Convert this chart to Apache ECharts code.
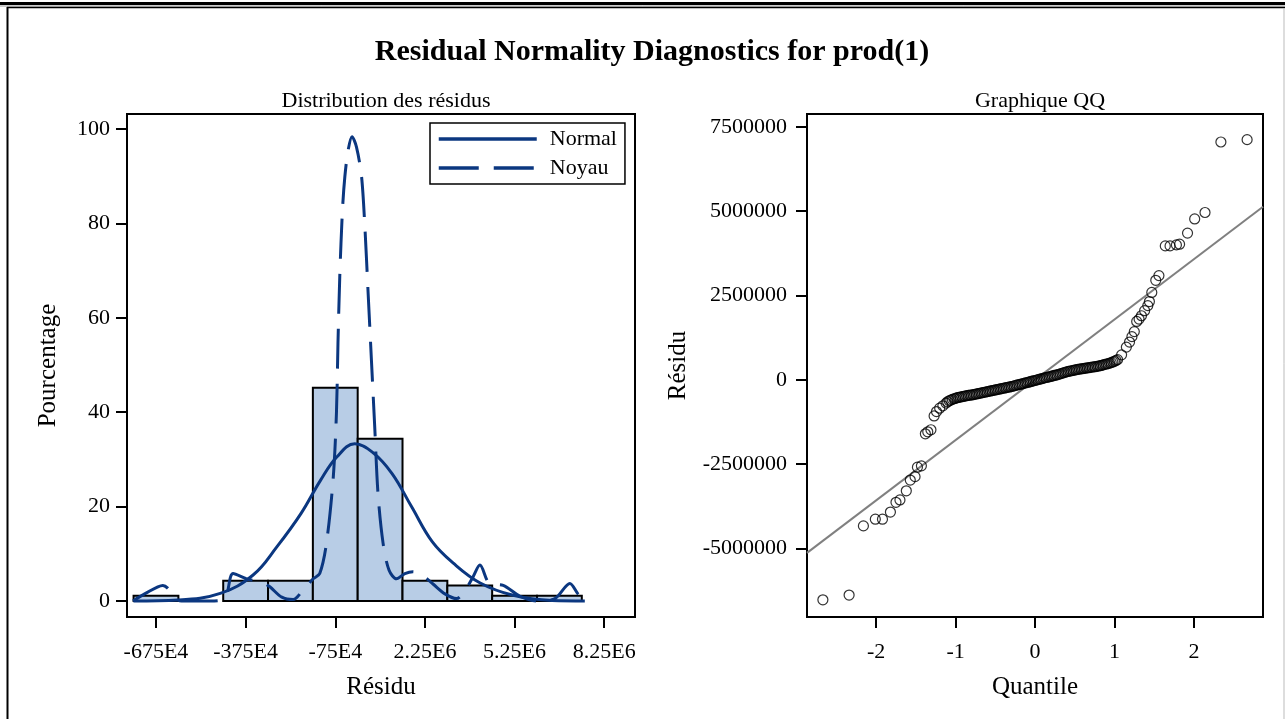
<!DOCTYPE html>
<html>
<head>
<meta charset="UTF-8">
<title>Residual Normality Diagnostics</title>
<script src="https://cdn.jsdelivr.net/npm/echarts@6/dist/echarts.min.js"></script>
<style>
  html, body { margin: 0; padding: 0; background: #fff; }
  #chart { width: 1285px; height: 719px; }
</style>
</head>
<body>
<div id="chart"></div>
<script>
// histogram (percent per bin of width 1.5E6)
var binWidth = 1.5e6;
var binCenters = [-6.75e6, -5.25e6, -3.75e6, -2.25e6, -0.75e6, 0.75e6, 2.25e6, 3.75e6, 5.25e6, 6.75e6];
var binPercent = [1.1, 0, 4.3, 4.3, 45.2, 34.4, 4.3, 3.3, 1.1, 1.1];

// normal density curve
var normalX = [-7.5e6, -6.0e6, -4.6e6, -3.5e6, -2.7e6, -1.9e6, -1.25e6, -0.7e6, -0.1e6, 0.5e6, 1.15e6, 1.8e6, 2.5e6, 3.2e6, 4.1e6, 5.2e6, 6.5e6, 7.6e6];
var normalPct = [0, 0.2, 1.6, 5.5, 11.5, 18.5, 25.5, 30.5, 33.3, 31.5, 27, 20, 12.5, 8, 3.8, 1.2, 0.1, 0];

// kernel density curve
var kernelX = [-7.52e6, -7.13e6, -6.52e6, -5.9e6, -4.95e6, -4.45e6, -4.17e6, -3.68e6, -3.21e6, -2.94e6, -2.54e6, -2.16e6, -1.81e6, -1.49e6, -1.27e6, -1.05e6, -0.82e6, -0.71e6, -0.66e6, -0.6e6, -0.51e6, -0.43e6, -0.32e6, -0.19e6, -0.04e6, 0.13e6, 0.24e6, 0.35e6, 0.46e6, 0.57e6, 0.68e6, 0.85e6, 1.05e6, 1.3e6, 1.58e6, 1.85e6, 2.25e6, 2.52e6, 2.92e6, 3.31e6, 3.62e6, 3.86e6, 4.09e6, 4.42e6, 4.87e6, 5.43e6, 5.99e6, 6.6e6, 7.1e6, 7.37e6, 7.6e6];
var kernelPct = [0, 1.5, 3.3, 0, 0, 0.5, 5.8, 4.6, 4.0, 3.0, 0.8, 0.3, 2.5, 4.7, 5.8, 12, 26, 40, 54.6, 68.7, 82.8, 89.9, 95.5, 98.4, 96.2, 89.9, 79.3, 65.1, 51, 36.9, 22.7, 12.2, 6.5, 4.7, 5.8, 6.2, 5.0, 3.6, 1.5, 0.5, 2.5, 5.1, 7.6, 3.6, 3.3, 1.0, 0, 0.5, 3.7, 1.5, 0];

var histTickValues = [-6.75e6, -3.75e6, -0.75e6, 2.25e6, 5.25e6, 8.25e6];
var histTickLabels = ['-675E4', '-375E4', '-75E4', '2.25E6', '5.25E6', '8.25E6'];
var pctTicks = [0, 20, 40, 60, 80, 100];

// QQ plot points
var qqQuantile = [-2.67, -2.34, -2.16, -2.01, -1.92, -1.82, -1.75, -1.70, -1.62, -1.57, -1.51, -1.48, -1.43, -1.38, -1.35, -1.31, -1.27, -1.24, -1.20, -1.16, -1.12,
  -1.10, -1.08, -1.06, -1.04, -1.02, -1.00, -0.98, -0.96, -0.94, -0.92, -0.90, -0.88, -0.86, -0.84, -0.82, -0.80, -0.78, -0.76, -0.74, -0.72, -0.70, -0.68, -0.66, -0.64, -0.62, -0.60,
  -0.58, -0.56, -0.54, -0.52, -0.50, -0.48, -0.46, -0.44, -0.42, -0.40, -0.38, -0.36, -0.34, -0.32, -0.30, -0.28, -0.26, -0.24, -0.22, -0.20, -0.18, -0.16, -0.14, -0.12, -0.10,
  -0.08, -0.06, -0.04, -0.02, 0.00, 0.02, 0.04, 0.06, 0.08, 0.10, 0.12, 0.14, 0.16, 0.18, 0.20, 0.22, 0.24, 0.26, 0.28, 0.30, 0.32, 0.34, 0.36, 0.38, 0.40,
  0.42, 0.44, 0.46, 0.48, 0.50, 0.52, 0.54, 0.56, 0.58, 0.60, 0.62, 0.64, 0.66, 0.68, 0.70, 0.72, 0.74, 0.76, 0.78, 0.80, 0.82, 0.84, 0.86, 0.88, 0.90, 0.92, 0.94, 0.96, 0.98, 1.00, 1.02, 1.04,
  1.09, 1.15, 1.19, 1.22, 1.25, 1.28, 1.31, 1.34, 1.38, 1.42, 1.44, 1.47, 1.52, 1.56, 1.64, 1.70, 1.78, 1.82, 1.92, 2.01, 2.14, 2.34, 2.67];
var qqResidual = [-6.52e6, -6.38e6, -4.33e6, -4.13e6, -4.13e6, -3.92e6, -3.63e6, -3.56e6, -3.29e6, -2.97e6, -2.87e6, -2.59e6, -2.55e6, -1.60e6, -1.54e6, -1.48e6, -1.07e6, -0.94e6, -0.84e6, -0.77e6, -0.69e6,
  -0.65e6, -0.62e6, -0.60e6, -0.58e6, -0.56e6, -0.55e6, -0.53e6, -0.52e6, -0.51e6, -0.50e6, -0.49e6, -0.48e6, -0.47e6, -0.46e6, -0.455e6, -0.45e6, -0.44e6, -0.43e6, -0.42e6, -0.41e6, -0.40e6, -0.39e6, -0.38e6, -0.37e6, -0.36e6, -0.35e6,
  -0.34e6, -0.33e6, -0.32e6, -0.31e6, -0.30e6, -0.29e6, -0.28e6, -0.27e6, -0.26e6, -0.25e6, -0.24e6, -0.23e6, -0.22e6, -0.21e6, -0.20e6, -0.19e6, -0.175e6, -0.16e6, -0.15e6, -0.14e6, -0.13e6, -0.12e6, -0.105e6, -0.09e6, -0.08e6,
  -0.07e6, -0.055e6, -0.04e6, -0.03e6, -0.02e6, -0.005e6, 0.01e6, 0.02e6, 0.03e6, 0.045e6, 0.06e6, 0.07e6, 0.08e6, 0.09e6, 0.10e6, 0.115e6, 0.13e6, 0.14e6, 0.15e6, 0.165e6, 0.18e6, 0.195e6, 0.21e6, 0.225e6, 0.24e6,
  0.25e6, 0.26e6, 0.27e6, 0.28e6, 0.29e6, 0.30e6, 0.31e6, 0.32e6, 0.325e6, 0.33e6, 0.34e6, 0.35e6, 0.355e6, 0.36e6, 0.37e6, 0.38e6, 0.385e6, 0.39e6, 0.40e6, 0.41e6, 0.42e6, 0.43e6, 0.445e6, 0.46e6, 0.47e6, 0.48e6, 0.495e6, 0.51e6, 0.53e6, 0.55e6, 0.575e6, 0.60e6,
  0.74e6, 0.97e6, 1.12e6, 1.28e6, 1.43e6, 1.73e6, 1.80e6, 1.90e6, 2.05e6, 2.20e6, 2.32e6, 2.59e6, 2.95e6, 3.09e6, 3.97e6, 3.97e6, 4.00e6, 4.02e6, 4.35e6, 4.77e6, 4.96e6, 7.05e6, 7.12e6];

// reference line end points
var refLineQ = [-2.87, 2.87];
var refLineR = [-5.13e6, 5.13e6];

var qqXTicks = [-2, -1, 0, 1, 2];
var qqYTicks = [-5000000, -2500000, 0, 2500000, 5000000, 7500000];

var FONT = '"Liberation Serif", "Times New Roman", serif';
var NAVY = '#0b3780';
var KERNEL_DASH = [40, 15];

function zip(a, b) {
    var out = [];
    for (var i = 0; i < a.length; i++) out.push([a[i], b[i]]);
    return out;
}

var tickStyle = { show: true, length: 11, inside: false, lineStyle: { color: '#000', width: 2 } };
var labelStyle = { color: '#000', fontFamily: FONT, fontSize: 22 };
var nameStyle = { color: '#000', fontFamily: FONT, fontSize: 25 };

var chart = echarts.init(document.getElementById('chart'));

var option = {
    backgroundColor: '#fff',
    animation: false,
    title: [
        {
            text: 'Residual Normality Diagnostics for prod(1)',
            left: 647, top: 32, textAlign: 'center',
            textStyle: { fontFamily: FONT, fontWeight: 'bold', fontSize: 30, color: '#000' }
        },
        {
            text: 'Distribution des résidus',
            left: 381, top: 85, textAlign: 'center',
            textStyle: { fontFamily: FONT, fontWeight: 'normal', fontSize: 22, color: '#000' }
        },
        {
            text: 'Graphique QQ',
            left: 1035, top: 85, textAlign: 'center',
            textStyle: { fontFamily: FONT, fontWeight: 'normal', fontSize: 22, color: '#000' }
        }
    ],
    legend: {
        data: ['Normal', 'Noyau'],
        orient: 'vertical',
        left: 430, top: 123,
        borderColor: '#000', borderWidth: 1.5,
        padding: [5, 8, 5, 7],
        itemWidth: 98, itemHeight: 14, itemGap: 7,
        itemStyle: { opacity: 0 },
        lineStyle: { width: 3.5 },
        textStyle: { fontFamily: FONT, fontSize: 22, color: '#000', padding: [0, 0, 0, 8] }
    },
    grid: [
        { left: 127, top: 114, width: 508, height: 503, show: true, borderColor: '#000', borderWidth: 2, backgroundColor: 'transparent' },
        { left: 807, top: 114, width: 456, height: 503, show: true, borderColor: '#000', borderWidth: 2, backgroundColor: 'transparent' }
    ],
    xAxis: [
        {
            gridIndex: 0, type: 'value', min: -7.72e6, max: 9.28e6,
            name: 'Résidu', nameLocation: 'middle', nameGap: 58, nameTextStyle: nameStyle,
            axisLine: { show: false, onZero: false },
            axisTick: Object.assign({ customValues: histTickValues }, tickStyle),
            axisLabel: Object.assign({
                customValues: histTickValues, margin: 24,
                formatter: function (v) {
                    for (var i = 0; i < histTickValues.length; i++) {
                        if (Math.abs(histTickValues[i] - v) < 1) return histTickLabels[i];
                    }
                    return '';
                }
            }, labelStyle),
            splitLine: { show: false }
        },
        {
            gridIndex: 1, type: 'value', min: -2.87, max: 2.87,
            name: 'Quantile', nameLocation: 'middle', nameGap: 58, nameTextStyle: nameStyle,
            axisLine: { show: false, onZero: false },
            axisTick: Object.assign({ customValues: qqXTicks }, tickStyle),
            axisLabel: Object.assign({ customValues: qqXTicks, margin: 24 }, labelStyle),
            splitLine: { show: false }
        }
    ],
    yAxis: [
        {
            gridIndex: 0, type: 'value', min: -3.4, max: 103.2,
            name: 'Pourcentage', nameLocation: 'middle', nameGap: 66, nameTextStyle: nameStyle,
            axisLine: { show: false, onZero: false },
            axisTick: Object.assign({ customValues: pctTicks }, tickStyle),
            axisLabel: Object.assign({ customValues: pctTicks, margin: 17 }, labelStyle),
            splitLine: { show: false }
        },
        {
            gridIndex: 1, type: 'value', min: -7.03e6, max: 7.88e6,
            name: 'Résidu', nameLocation: 'middle', nameGap: 116, nameTextStyle: nameStyle,
            axisLine: { show: false, onZero: false },
            axisTick: Object.assign({ customValues: qqYTicks }, tickStyle),
            axisLabel: Object.assign({
                customValues: qqYTicks, margin: 20,
                formatter: function (v) { return String(v); }
            }, labelStyle),
            splitLine: { show: false }
        }
    ],
    graphic: [
        { type: 'rect', shape: { x: 0, y: 2, width: 1285, height: 3 }, style: { fill: '#000' }, silent: true },
        { type: 'line', shape: { x1: 0, y1: 6, x2: 1285, y2: 6 }, style: { stroke: '#999', lineWidth: 1 }, silent: true },
        { type: 'line', shape: { x1: 7, y1: 7.5, x2: 1285, y2: 7.5 }, style: { stroke: '#000', lineWidth: 1.5 }, silent: true },
        { type: 'line', shape: { x1: 7.5, y1: 7, x2: 7.5, y2: 719 }, style: { stroke: '#000', lineWidth: 2 }, silent: true },
        { type: 'line', shape: { x1: 1284, y1: 8, x2: 1284, y2: 719 }, style: { stroke: '#bbb', lineWidth: 1 }, silent: true }
    ],
    series: [
        {
            name: 'Histogramme',
            type: 'custom',
            xAxisIndex: 0, yAxisIndex: 0,
            data: zip(binCenters, binPercent),
            renderItem: function (params, api) {
                var c = api.value(0), h = api.value(1);
                if (!h) return null;
                var p0 = api.coord([c - binWidth / 2, h]);
                var p1 = api.coord([c + binWidth / 2, 0]);
                return {
                    type: 'rect',
                    shape: { x: p0[0], y: p0[1], width: p1[0] - p0[0], height: p1[1] - p0[1] },
                    style: { fill: '#b8cde6', stroke: '#000', lineWidth: 2 }
                };
            },
            z: 1
        },
        {
            name: 'Normal',
            type: 'line',
            xAxisIndex: 0, yAxisIndex: 0,
            data: zip(normalX, normalPct),
            smooth: 0.4,
            symbol: 'none',
            color: NAVY,
            lineStyle: { color: NAVY, width: 3 },
            z: 3
        },
        {
            name: 'Noyau',
            type: 'line',
            xAxisIndex: 0, yAxisIndex: 0,
            data: zip(kernelX, kernelPct),
            smooth: 0.3,
            symbol: 'none',
            color: NAVY,
            lineStyle: { color: NAVY, width: 3, type: KERNEL_DASH },
            z: 3
        },
        {
            name: 'Référence',
            type: 'line',
            xAxisIndex: 1, yAxisIndex: 1,
            data: zip(refLineQ, refLineR),
            symbol: 'none',
            lineStyle: { color: '#808080', width: 2 },
            z: 2
        },
        {
            name: 'QQ',
            type: 'scatter',
            xAxisIndex: 1, yAxisIndex: 1,
            data: zip(qqQuantile, qqResidual),
            symbol: 'circle',
            symbolSize: 10,
            itemStyle: { color: 'rgba(0,0,0,0)', borderColor: '#000', borderWidth: 1.2 },
            z: 3
        }
    ]
};

chart.setOption(option);
</script>
</body>
</html>
